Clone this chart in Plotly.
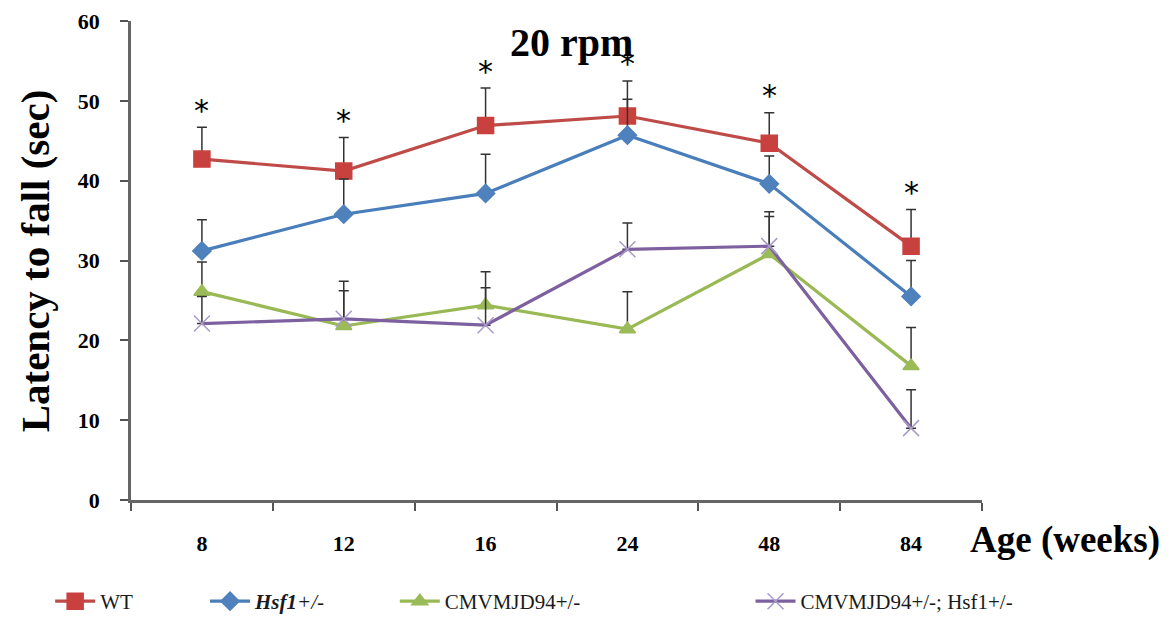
import plotly.graph_objects as go

# Rotarod latency at 20 rpm by age group
ages = ["8", "12", "16", "24", "48", "84"]

wt = [42.7, 41.2, 46.9, 48.1, 44.7, 31.8]
wt_err = [4.0, 4.2, 4.7, 4.4, 3.8, 4.6]

hsf1 = [31.2, 35.8, 38.4, 45.7, 39.6, 25.5]
hsf1_err = [3.9, 4.4, 4.9, 4.5, 3.5, 4.5]

cmv = [26.1, 21.8, 24.4, 21.4, 30.8, 16.8]
cmv_err = [3.7, 4.4, 4.2, 4.7, 4.7, 4.8]

cmv_hsf1 = [22.1, 22.7, 21.9, 31.4, 31.8, 9.0]
cmv_hsf1_err = [3.4, 4.7, 4.7, 3.3, 4.3, 4.8]

significant = ["8", "12", "16", "24", "48", "84"]

serif = "Liberation Serif"

series = [
    ("WT", wt, wt_err, "#BE4B48", "#C9413E", "square", 16, "legend"),
    ("<b><i>Hsf1</i></b><i>+/-</i>", hsf1, hsf1_err, "#4A7EBB", "#4F81BD", "diamond", 14, "legend2"),
    ("CMVMJD94+/-", cmv, cmv_err, "#98B954", "#9BBB59", "triangle-up", 14, "legend3"),
    ("CMVMJD94+/-; Hsf1+/-", cmv_hsf1, cmv_hsf1_err, "#7D60A0", "#A99BC8", "x-thin-open", 16, "legend4"),
]

fig = go.Figure()
for name, vals, errs, lc, mc, sym, size, leg in series:
    fig.add_trace(go.Scatter(
        x=ages, y=vals, name=name, mode="lines+markers",
        line=dict(color=lc, width=3.2),
        marker=dict(symbol=sym, size=size, color=mc,
                    line=dict(color=mc, width=1.5)),
        error_y=dict(type="data", symmetric=False, array=errs,
                     arrayminus=[0] * len(errs), color="#333333",
                     thickness=1.5, width=5),
        legend=leg,
    ))

# significance markers above the WT error bars (category index positions)
for i, (a, v, e) in enumerate(zip(ages, wt, wt_err)):
    if a in significant:
        fig.add_annotation(x=i, y=v + e, text="*", showarrow=False,
                           yshift=17, font=dict(family="DejaVu Sans", size=30, color="black"))

legend_common = dict(orientation="h", yanchor="middle", y=-0.212, xanchor="left",
                     font=dict(family=serif, size=21, color="#1a1a1a"),
                     bgcolor="rgba(0,0,0,0)", itemwidth=40)

fig.update_layout(
    width=1175, height=620,
    margin=dict(l=131, r=193, t=21, b=120, autoexpand=False),
    paper_bgcolor="white", plot_bgcolor="white",
    showlegend=True,
    legend=dict(x=-0.095, **legend_common),
    legend2=dict(x=0.087, **legend_common),
    legend3=dict(x=0.31, **legend_common),
    legend4=dict(x=0.728, **legend_common),
    xaxis=dict(type="category", range=[-0.5, 5.5], tickson="boundaries",
               ticks="outside", ticklen=8, tickcolor="#555", tickwidth=2,
               showline=True, linecolor="#666", linewidth=2.5,
               showgrid=False, zeroline=False, ticklabelstandoff=22,
               tickfont=dict(family=serif, size=22, color="black", weight="bold")),
    yaxis=dict(range=[0, 60], dtick=10, ticks="outside", ticklen=8,
               tickcolor="#555", tickwidth=2, showline=True, linecolor="#666",
               linewidth=2.5, showgrid=False, zeroline=False, ticklabelstandoff=16,
               tickfont=dict(family=serif, size=22, color="black", weight="bold")),
)

fig.add_annotation(xref="paper", yref="paper", x=0.518, y=0.955, text="<b>20 rpm</b>",
                   xanchor="center", yanchor="middle",
                   showarrow=False, font=dict(family=serif, size=40, color="black"))
fig.add_annotation(xref="paper", yref="paper", x=-0.113, y=0.5, text="<b>Latency to fall (sec)</b>",
                   showarrow=False, textangle=-90, xanchor="center", yanchor="middle",
                   font=dict(family=serif, size=41, color="black"))
fig.add_annotation(xref="paper", yref="paper", x=1.0975, y=-0.0835, text="<b>Age (weeks)</b>",
                   xanchor="center", yanchor="middle",
                   showarrow=False, font=dict(family=serif, size=37, color="black"))

fig.write_html("out.html")
